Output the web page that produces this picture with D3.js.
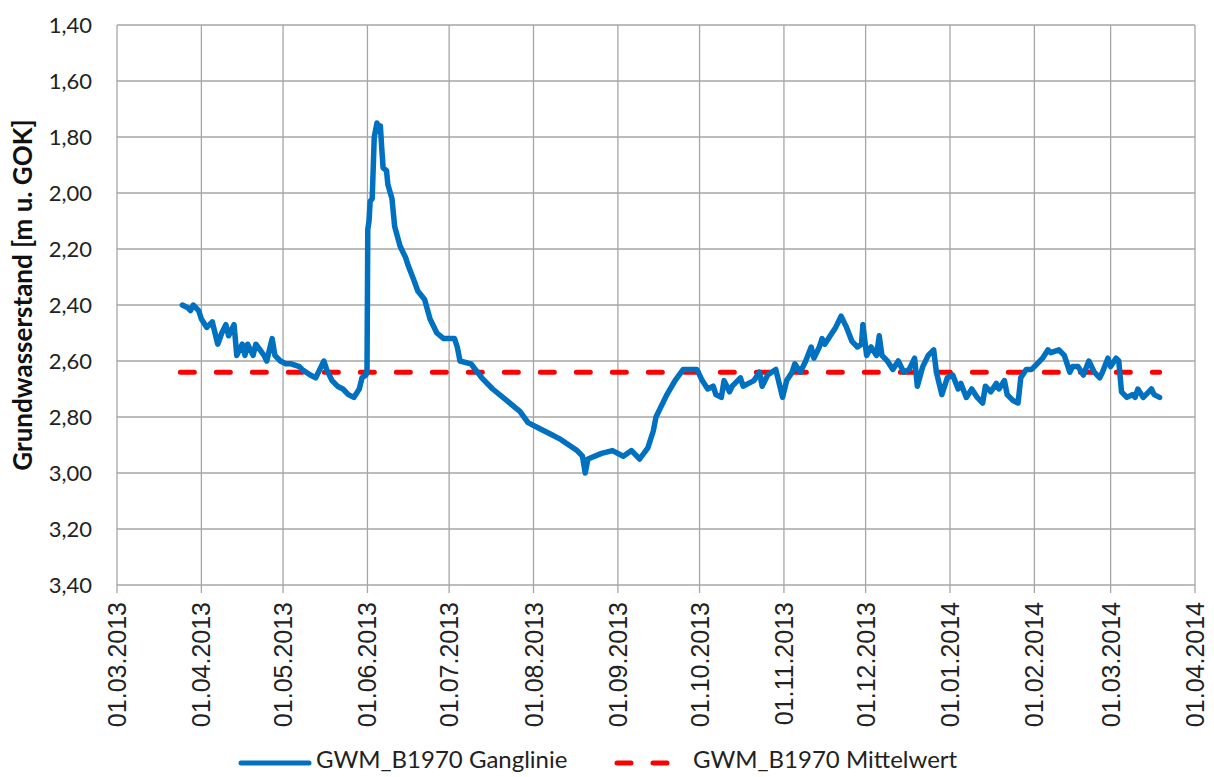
<!DOCTYPE html>
<html>
<head>
<meta charset="utf-8">
<script src="https://cdn.jsdelivr.net/npm/d3@7"></script>
<style>
  body { margin: 0; background: #fff; }
  svg { display: block; }
</style>
</head>
<body>
<svg id="chart" width="1214" height="777"></svg>
<script>
// Grundwasserstand GWM_B1970, values in m u. GOK
const dates = [
  "2013-03-25","2013-03-27","2013-03-28","2013-03-29","2013-03-31","2013-04-01","2013-04-03","2013-04-05",
  "2013-04-06","2013-04-07","2013-04-08 12","2013-04-10","2013-04-11","2013-04-13","2013-04-14","2013-04-16",
  "2013-04-17","2013-04-18","2013-04-20","2013-04-21","2013-04-24","2013-04-25","2013-04-27","2013-04-28",
  "2013-04-30","2013-05-02","2013-05-04","2013-05-07","2013-05-08","2013-05-11","2013-05-13","2013-05-15",
  "2013-05-16","2013-05-17","2013-05-19","2013-05-21","2013-05-23","2013-05-25","2013-05-27","2013-05-29",
  "2013-05-30","2013-05-31 12","2013-05-31 20","2013-06-01 00","2013-06-01 03","2013-06-01 14","2013-06-02 00","2013-06-02 18",
  "2013-06-03 12","2013-06-04 12","2013-06-05 06","2013-06-05 18","2013-06-06 06","2013-06-06 18","2013-06-08 00","2013-06-08 12",
  "2013-06-10","2013-06-11","2013-06-13","2013-06-15","2013-06-16","2013-06-18","2013-06-19 12","2013-06-22",
  "2013-06-24","2013-06-26 12","2013-06-29","2013-07-03","2013-07-04","2013-07-05","2013-07-09","2013-07-13",
  "2013-07-17","2013-07-22","2013-07-27","2013-07-30","2013-08-03","2013-08-07","2013-08-11","2013-08-17",
  "2013-08-19","2013-08-20","2013-08-21","2013-08-26","2013-08-30","2013-09-03","2013-09-06","2013-09-09",
  "2013-09-12","2013-09-14","2013-09-15","2013-09-19","2013-09-22","2013-09-25","2013-09-27","2013-09-30",
  "2013-10-02","2013-10-04","2013-10-06","2013-10-07","2013-10-09","2013-10-10","2013-10-12","2013-10-13",
  "2013-10-16","2013-10-17","2013-10-19","2013-10-21","2013-10-23","2013-10-24","2013-10-26","2013-10-29",
  "2013-10-30","2013-10-31 12","2013-11-02","2013-11-04","2013-11-05","2013-11-07","2013-11-09","2013-11-11",
  "2013-11-12","2013-11-14","2013-11-15","2013-11-16","2013-11-18","2013-11-20","2013-11-22","2013-11-24",
  "2013-11-26","2013-11-28","2013-11-29 12","2013-11-30","2013-12-01 09","2013-12-03","2013-12-05","2013-12-06",
  "2013-12-07","2013-12-09","2013-12-11","2013-12-13","2013-12-15","2013-12-17","2013-12-19","2013-12-20",
  "2013-12-22","2013-12-24","2013-12-26","2013-12-27","2013-12-29","2013-12-31","2014-01-02","2014-01-04",
  "2014-01-05","2014-01-07","2014-01-09","2014-01-11","2014-01-13","2014-01-14","2014-01-16","2014-01-18",
  "2014-01-19","2014-01-21","2014-01-22","2014-01-24","2014-01-26","2014-01-27","2014-01-29","2014-01-31",
  "2014-02-02","2014-02-04","2014-02-06","2014-02-07","2014-02-10","2014-02-12","2014-02-14","2014-02-15",
  "2014-02-17","2014-02-19","2014-02-21","2014-02-23","2014-02-25","2014-02-26","2014-02-28","2014-03-01",
  "2014-03-03","2014-03-04","2014-03-05","2014-03-07","2014-03-09","2014-03-10","2014-03-11","2014-03-13",
  "2014-03-15","2014-03-16","2014-03-17","2014-03-19"
];
const levels = [
  2.40,2.41,2.42,2.40,2.42,2.45,2.48,2.46,
  2.50,2.54,2.50,2.47,2.51,2.47,2.58,2.54,
  2.58,2.54,2.58,2.54,2.58,2.60,2.52,2.58,
  2.60,2.61,2.61,2.62,2.63,2.65,2.66,2.62,
  2.60,2.63,2.67,2.69,2.70,2.72,2.73,2.70,
  2.66,2.65,2.64,2.36,2.13,2.10,2.03,2.02,
  1.80,1.75,1.78,1.76,1.84,1.91,1.92,1.97,
  2.02,2.12,2.19,2.23,2.26,2.31,2.35,2.38,
  2.45,2.50,2.52,2.52,2.55,2.60,2.61,2.66,
  2.70,2.74,2.78,2.82,2.84,2.86,2.88,2.92,
  2.94,3.00,2.95,2.93,2.92,2.94,2.92,2.95,
  2.91,2.85,2.80,2.72,2.67,2.63,2.63,2.63,
  2.67,2.70,2.69,2.72,2.73,2.67,2.71,2.69,
  2.66,2.69,2.68,2.67,2.64,2.69,2.65,2.63,
  2.67,2.73,2.67,2.64,2.61,2.64,2.60,2.55,
  2.59,2.55,2.52,2.54,2.51,2.48,2.44,2.48,
  2.53,2.55,2.54,2.47,2.58,2.55,2.58,2.51,
  2.58,2.60,2.63,2.60,2.64,2.63,2.59,2.69,
  2.62,2.58,2.56,2.64,2.72,2.66,2.65,2.70,
  2.68,2.73,2.70,2.73,2.75,2.69,2.71,2.68,
  2.70,2.67,2.72,2.74,2.75,2.66,2.63,2.63,
  2.61,2.59,2.56,2.57,2.56,2.58,2.64,2.62,
  2.62,2.65,2.60,2.64,2.66,2.64,2.59,2.62,
  2.59,2.60,2.71,2.73,2.72,2.73,2.70,2.73,
  2.71,2.70,2.72,2.73
];
const meanLevel = 2.64;
const yTicks = [1.4,1.6,1.8,2.0,2.2,2.4,2.6,2.8,3.0,3.2,3.4];
const xDomain = ["2013-03-01","2014-04-01"];
const seriesNames = ["GWM_B1970 Ganglinie","GWM_B1970 Mittelwert"];

const parseH = d3.timeParse("%Y-%m-%d %H");
const parseD = d3.timeParse("%Y-%m-%d");
const parse = s => parseH(s) || parseD(s);

const data = dates.map((d, i) => ({ date: parse(d), value: levels[i] }));

const svg = d3.select("#chart");
const mLeft = 117, mRight = 1195, mTop = 25, mBottom = 585;

const x = d3.scaleTime().domain(xDomain.map(parse)).range([mLeft, mRight]);
const y = d3.scaleLinear().domain([1.4, 3.4]).range([mTop, mBottom]);

const grid = "#a6a6a6";
const fmtY = d3.format(".2f");
const fmtX = d3.timeFormat("%d.%m.%Y");
const months = d3.timeMonth.range(x.domain()[0], d3.timeDay.offset(x.domain()[1], 1));

// horizontal gridlines
svg.append("g").selectAll("line").data(yTicks).join("line")
  .attr("x1", mLeft).attr("x2", mRight)
  .attr("y1", d => y(d)).attr("y2", d => y(d))
  .attr("stroke", grid).attr("stroke-width", 1.3);

// vertical gridlines + ticks
svg.append("g").selectAll("line").data(months).join("line")
  .attr("x1", d => x(d)).attr("x2", d => x(d))
  .attr("y1", mTop).attr("y2", mBottom + 8)
  .attr("stroke", grid).attr("stroke-width", 1.3);

// y labels
svg.append("g").selectAll("text").data(yTicks).join("text")
  .attr("x", 92).attr("y", d => y(d))
  .attr("dy", "0.36em")
  .attr("text-anchor", "end")
  .attr("font-family", "Lato, 'Open Sans', sans-serif")
  .attr("font-size", 22)
  .attr("fill", "#222")
  .text(d => fmtY(d).replace(".", ","));

// x labels
svg.append("g").selectAll("text").data(months).join("text")
  .attr("transform", d => `translate(${x(d)},${mBottom + 17}) rotate(-90)`)
  .attr("dy", "0.36em")
  .attr("text-anchor", "end")
  .attr("font-family", "'Liberation Sans', Arial, sans-serif")
  .attr("font-size", 25)
  .attr("fill", "#222")
  .text(d => fmtX(d));

// y title
svg.append("text")
  .attr("transform", `translate(32,295) rotate(-90)`)
  .attr("text-anchor", "middle")
  .attr("font-family", "Lato, 'Open Sans', sans-serif")
  .attr("font-weight", "bold")
  .attr("font-size", 26)
  .attr("fill", "#111")
  .text("Grundwasserstand [m u. GOK]");

// mean line
svg.append("line")
  .attr("x1", x(data[0].date) - 2).attr("x2", x(data[data.length - 1].date))
  .attr("y1", y(meanLevel)).attr("y2", y(meanLevel))
  .attr("stroke", "#ff0000").attr("stroke-width", 5)
  .attr("stroke-linecap", "round")
  .attr("stroke-dasharray", "14,22");

// hydrograph
const line = d3.line().x(d => x(d.date)).y(d => y(d.value));
svg.append("path").datum(data)
  .attr("d", line)
  .attr("fill", "none")
  .attr("stroke", "#0070c0")
  .attr("stroke-width", 5.5)
  .attr("stroke-linejoin", "round")
  .attr("stroke-linecap", "round");

// legend
const lg = svg.append("g").attr("font-family", "Lato, 'Open Sans', sans-serif").attr("font-size", 24).attr("fill", "#222");
lg.append("line").attr("x1", 241).attr("x2", 309).attr("y1", 763).attr("y2", 763)
  .attr("stroke", "#0070c0").attr("stroke-width", 5).attr("stroke-linecap", "round");
lg.append("text").attr("x", 316).attr("y", 760).attr("dy", "0.35em").text(seriesNames[0]);
lg.append("line").attr("x1", 617).attr("x2", 670).attr("y1", 763).attr("y2", 763)
  .attr("stroke", "#ff0000").attr("stroke-width", 5).attr("stroke-linecap", "round")
  .attr("stroke-dasharray", "14,22");
lg.append("text").attr("x", 693).attr("y", 760).attr("dy", "0.35em").text(seriesNames[1]);
</script>
</body>
</html>
